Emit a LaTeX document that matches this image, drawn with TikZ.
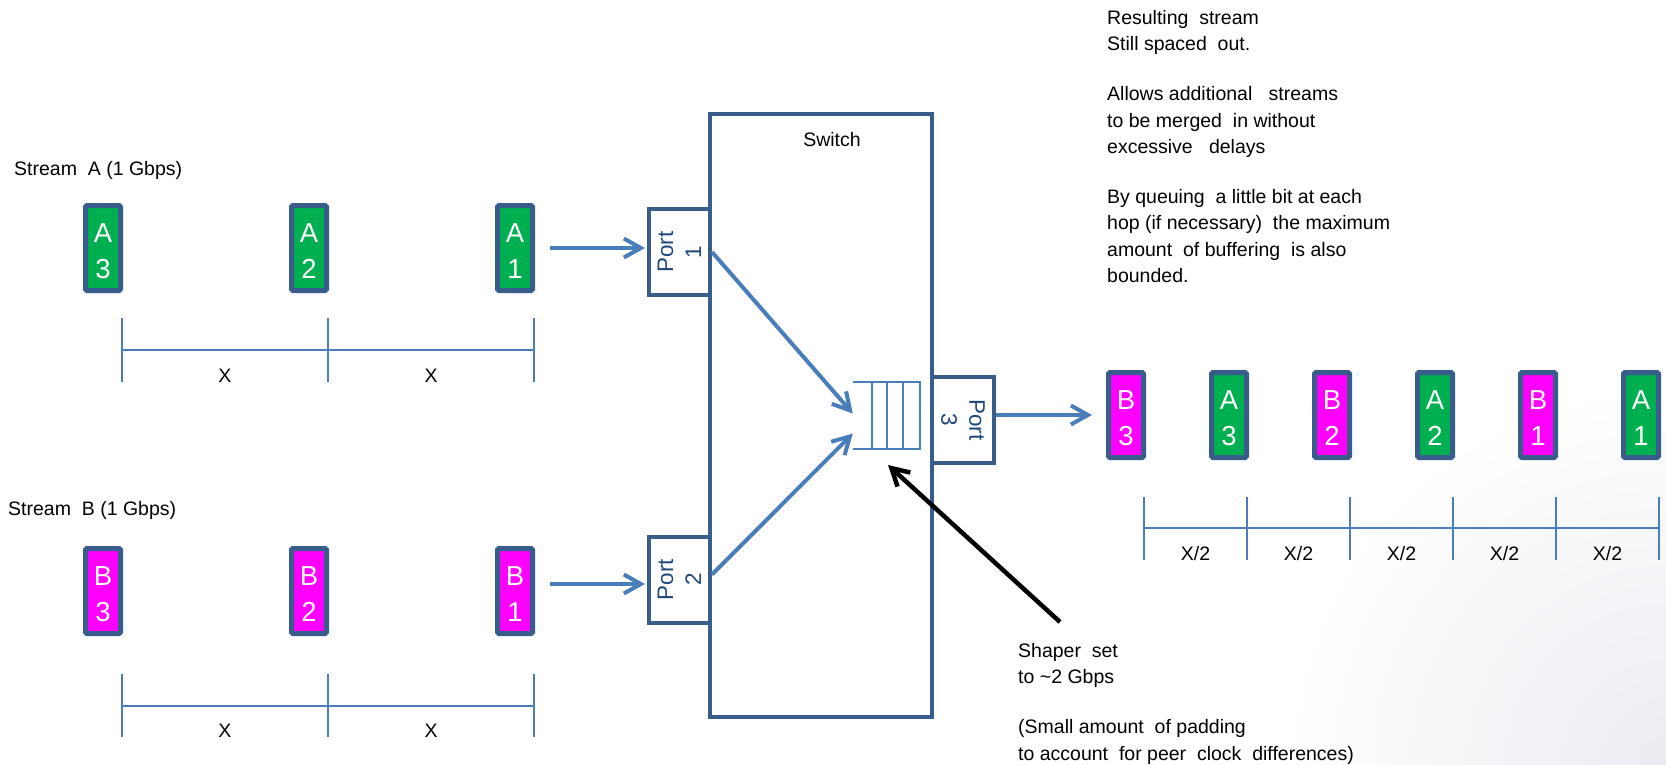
\documentclass[tikz,border=0pt]{standalone}
\usepackage{fontspec}
\setmainfont{Liberation Sans}
\usetikzlibrary{arrows.meta}
\definecolor{pktborder}{HTML}{385D8A}
\definecolor{swborder}{HTML}{385D8A}
\definecolor{arrblue}{HTML}{4A7EBB}
\definecolor{pktgreen}{HTML}{00B050}
\definecolor{pktmag}{HTML}{FF00FF}
\definecolor{porttxt}{HTML}{1F497D}
\definecolor{bgshade}{HTML}{EBEBF2}
\newcommand\mkpkt[5]{\node[#3] (#1) at (#2) {}; \node[pkttext] (#1t) at ([yshift=-3pt]#1.center) {#4\\#5};}
\begin{document}
\begin{tikzpicture}[x=1pt,y=-1pt,
  txt/.style={font=\fontsize{19.5}{26.4}\selectfont, inner sep=0pt, text=black},
  pktbox/.style={draw=pktborder, line width=5pt, rounded corners=1.5pt, minimum width=35pt, minimum height=85pt, inner sep=0pt},
  pa/.style={pktbox, fill=pktgreen},
  pb/.style={pktbox, fill=pktmag},
  pkttext/.style={text=white, font=\fontsize{27.5}{36}\selectfont, align=center, inner sep=0pt},
  portbox/.style={draw=swborder, line width=4pt, fill=white, minimum width=61pt, minimum height=86pt, inner sep=0pt},
  porttext/.style={text=porttxt, font=\fontsize{22.5}{28}\selectfont, align=center, inner sep=0pt},
  flow/.style={draw=arrblue, line width=4pt, -{Straight Barb[length=17pt,width=19pt]}},
  dimline/.style={draw=arrblue, line width=2.5pt},
  qline/.style={draw=arrblue, line width=2pt},
  callout/.style={draw=black, line width=4.5pt, -{Straight Barb[length=17pt,width=19pt]}},
]
\useasboundingbox (0,0) rectangle (1666,764);
\fill[white] (0,0) rectangle (1666,764);
\begin{scope}
  \clip (0,0) rectangle (1666,764);
  \shade[inner color=bgshade, outer color=white] (1666,764) circle (380);
\end{scope}

% labels
\node[txt, anchor=base west] (sa) at (14,175) {Stream\ \ A (1 Gbps)};
\node[txt, anchor=base west] (sb) at (8,515) {Stream\ \ B (1 Gbps)};

% packets stream A
\mkpkt{A3}{103,248}{pa}{A}{3}
\mkpkt{A2}{309,248}{pa}{A}{2}
\mkpkt{A1}{515,248}{pa}{A}{1}
% packets stream B
\mkpkt{B3}{103,591}{pb}{B}{3}
\mkpkt{B2}{309,591}{pb}{B}{2}
\mkpkt{B1}{515,591}{pb}{B}{1}
% output packets
\mkpkt{OB3}{1126,415}{pb}{B}{3}
\mkpkt{OA3}{1229,415}{pa}{A}{3}
\mkpkt{OB2}{1332,415}{pb}{B}{2}
\mkpkt{OA2}{1435,415}{pa}{A}{2}
\mkpkt{OB1}{1538,415}{pb}{B}{1}
\mkpkt{OA1}{1641,415}{pa}{A}{1}

% dimension lines
\draw[dimline] (122,350) -- (534,350);
\foreach \x in {122,328,534} \draw[dimline] (\x,318) -- (\x,382);
\node[txt, anchor=base] (xa1) at (225,382) {X};
\node[txt, anchor=base] (xa2) at (431,382) {X};
\draw[dimline] (122,706) -- (534,706);
\foreach \x in {122,328,534} \draw[dimline] (\x,674) -- (\x,737);
\node[txt, anchor=base] (xb1) at (225,737) {X};
\node[txt, anchor=base] (xb2) at (431,737) {X};
\draw[dimline] (1144,528) -- (1659,528);
\foreach \x in {1144,1247,1350,1453,1556,1659} \draw[dimline] (\x,497) -- (\x,560);
\foreach \x/\n in {1195.5/1,1298.5/2,1401.5/3,1504.5/4,1607.5/5}
  \node[txt, anchor=base] (xh\n) at (\x,560) {X/2};

% switch
\node[draw=swborder, line width=4pt, minimum width=222pt, minimum height=603pt, inner sep=0pt] (SW) at (821,415.5) {};
\node[txt, anchor=base] (swl) at (832,146) {Switch};

% ports
\node[portbox] (P1) at (679.5,252) {};
\node[porttext, rotate=90] (P1t) at (P1.center) {Port\\1};
\node[portbox] (P2) at (679.5,579.5) {};
\node[porttext, rotate=90] (P2t) at (P2.center) {Port\\2};
\node[portbox, minimum width=62pt] (P3) at (963,420) {};
\node[porttext, rotate=-90] (P3t) at (P3.center) {Port\\3};

% queue
\node[minimum width=67pt, minimum height=67pt, inner sep=0pt] (Q) at (886.5,415.5) {};
\draw[qline] (Q.north west) -- (Q.north east) -- (Q.south east) -- (Q.south west);
\foreach \s in {19,34.3,50.3}
  \draw[qline] ([xshift=\s pt]Q.north west) -- ([xshift=\s pt]Q.south west);

% connectors
\draw[flow, shorten >=2pt] ([xshift=15pt]A1.east) -- (A1.east -| P1.west);
\coordinate (bstart) at ([xshift=15pt,yshift=7pt]B1.east);
\draw[flow, shorten >=2pt] (bstart) -- (bstart -| P2.west);
\draw[flow] (P1.east) -- ([yshift=2pt]Q.west);
\draw[flow] ([yshift=5pt]P2.east) -- ([yshift=-18pt]Q.west);
\coordinate (outtip) at (1092,415);
\draw[flow] (P3.east |- outtip) -- (outtip);
\coordinate (shtail) at (1060,622);
\coordinate (shtip) at (888,465);
\draw[callout] (shtail) -- (shtip);

% notes
\node[txt, align=left, anchor=north west] (note) at (1107,10) {Resulting\ \ stream\\Still spaced\ \ out.\\[23.6pt]Allows additional\ \ \ streams\\to be merged\ \ in without\\excessive\ \ \ delays\\[23.6pt]By queuing\ \ a little bit at each\\hop (if necessary)\ \ the maximum\\amount\ \ of buffering\ \ is also\\bounded.};
\node[txt, align=left, anchor=north west] (shaper) at (1018,643) {Shaper\ \ set\\to \textasciitilde 2 Gbps\\[23.6pt](Small amount\ \ of padding\\to account\ \ for peer\ \ clock\ \ differences)};
\end{tikzpicture}
\end{document}
